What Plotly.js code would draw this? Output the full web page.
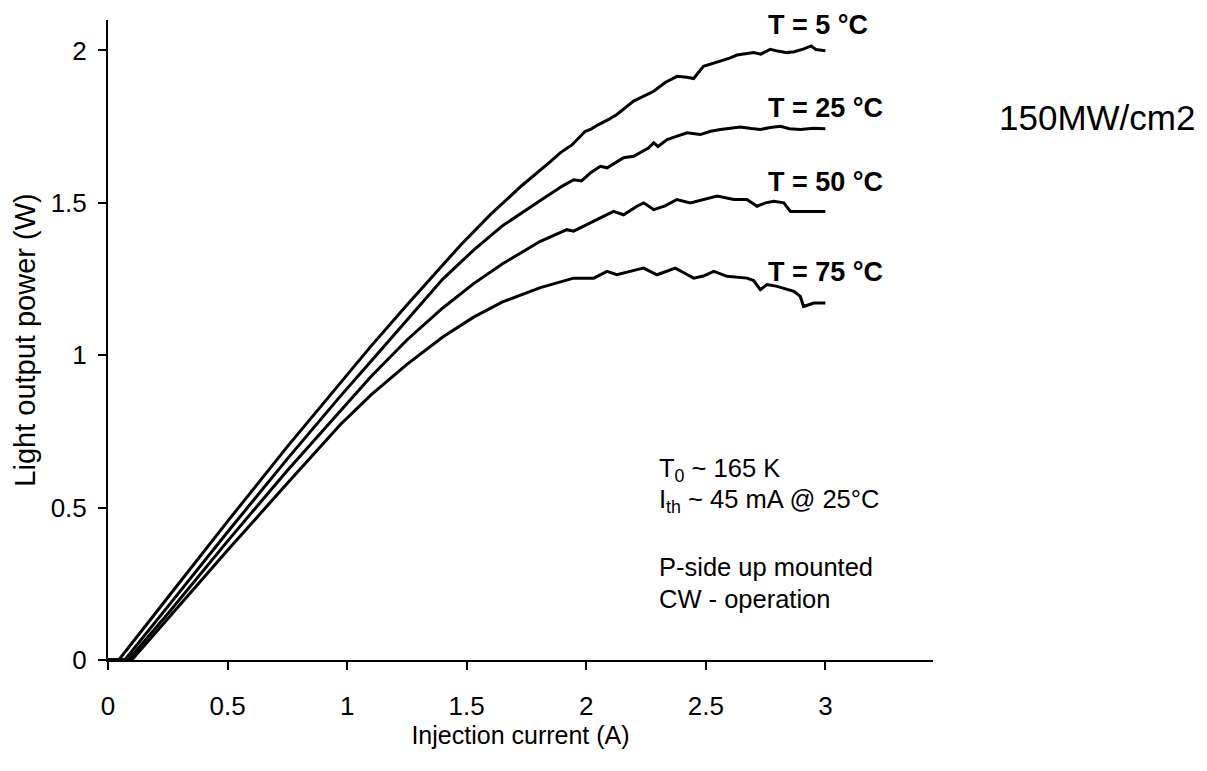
<!DOCTYPE html>
<html>
<head>
<meta charset="utf-8">
<script src="https://cdn.plot.ly/plotly-3.0.1.min.js"></script>
<style>
  html, body { margin: 0; padding: 0; background: #fff; }
  #chart { width: 1207px; height: 771px; }
</style>
</head>
<body>
<div id="chart"></div>
<script>
// L-I curves of the laser diode at four heat-sink temperatures (CW, p-side up)
const temperatures = ['T = 5 °C', 'T = 25 °C', 'T = 50 °C', 'T = 75 °C'];

const current5 = [0, 0.045, 0.25, 0.5, 0.75, 0.971, 1.1, 1.25, 1.35, 1.473, 1.6, 1.731, 1.85, 1.891, 1.94, 1.996, 2.02, 2.051, 2.09, 2.128,
  2.198, 2.24, 2.282, 2.33, 2.38, 2.42, 2.449, 2.49, 2.53, 2.561, 2.6, 2.63, 2.67, 2.70, 2.73, 2.77, 2.80, 2.84, 2.87, 2.91, 2.94, 2.96, 3.0];
const power5 = [0, 0, 0.205, 0.455, 0.700, 0.909, 1.030, 1.165, 1.253, 1.360, 1.462, 1.557, 1.635, 1.664, 1.690, 1.735, 1.742, 1.757, 1.772, 1.790,
  1.834, 1.850, 1.866, 1.895, 1.915, 1.912, 1.908, 1.948, 1.958, 1.965, 1.975, 1.985, 1.990, 1.993, 1.988, 2.004, 1.998, 1.993, 1.996, 2.005, 2.015, 2.003, 1.999];

const current25 = [0, 0.07, 0.25, 0.5, 0.75, 0.971, 1.1, 1.25, 1.4, 1.529, 1.65, 1.808, 1.90, 1.947, 1.98, 2.02, 2.059, 2.087, 2.156, 2.198, 2.26, 2.282, 2.30, 2.338,
  2.421, 2.477, 2.52, 2.561, 2.644, 2.69, 2.728, 2.77, 2.812, 2.85, 2.895, 2.95, 3.0];
const power25 = [0, 0, 0.175, 0.420, 0.660, 0.865, 0.980, 1.115, 1.250, 1.345, 1.425, 1.508, 1.555, 1.576, 1.572, 1.600, 1.620, 1.615, 1.648, 1.653, 1.680, 1.697, 1.685, 1.708,
  1.730, 1.724, 1.735, 1.741, 1.749, 1.744, 1.741, 1.747, 1.751, 1.743, 1.741, 1.745, 1.743];

const current50 = [0, 0.085, 0.25, 0.5, 0.75, 0.971, 1.1, 1.25, 1.4, 1.529, 1.65, 1.808, 1.919, 1.947, 2.0, 2.045, 2.114, 2.156, 2.212, 2.240, 2.282, 2.33, 2.379,
  2.435, 2.49, 2.547, 2.617, 2.672, 2.714, 2.75, 2.784, 2.826, 2.854, 2.881, 2.95, 3.0];
const power50 = [0, 0, 0.152, 0.390, 0.622, 0.816, 0.930, 1.050, 1.155, 1.235, 1.300, 1.374, 1.412, 1.407, 1.428, 1.445, 1.472, 1.461, 1.489, 1.500, 1.478, 1.490, 1.511,
  1.500, 1.512, 1.522, 1.511, 1.511, 1.489, 1.500, 1.505, 1.500, 1.472, 1.472, 1.470, 1.472];

const current75 = [0, 0.099, 0.25, 0.5, 0.75, 0.971, 1.1, 1.25, 1.4, 1.529, 1.65, 1.808, 1.947, 2.031, 2.087, 2.128, 2.212, 2.240, 2.296, 2.33, 2.372, 2.41,
  2.449, 2.49, 2.533, 2.589, 2.672, 2.70, 2.728, 2.756, 2.798, 2.868, 2.895, 2.909, 2.951, 3.0];
const power75 = [0, 0, 0.135, 0.360, 0.580, 0.772, 0.870, 0.970, 1.060, 1.125, 1.175, 1.222, 1.253, 1.253, 1.275, 1.264, 1.281, 1.286, 1.264, 1.275, 1.286, 1.270,
  1.253, 1.260, 1.275, 1.259, 1.253, 1.245, 1.215, 1.232, 1.226, 1.210, 1.193, 1.160, 1.171, 1.171];

// Label anchor points (left edge, vertical middle) for the curve names
const labelX = [2.753, 2.753, 2.753, 2.753];
const labelY = [2.085, 1.810, 1.570, 1.274];

const xTicks = [0, 0.5, 1, 1.5, 2, 2.5, 3];
const xTickText = ['0', '0.5', '1', '1.5', '2', '2.5', '3'];
const yTicks = [0, 0.5, 1, 1.5, 2];
const yTickText = ['0', '0.5', '1', '1.5', '2'];

const notes = ['T<sub>0</sub> ~ 165 K', 'I<sub>th</sub> ~ 45 mA @ 25°C', 'P-side up mounted', 'CW - operation'];
const notesY = [0.625, 0.521, 0.305, 0.200];

const FONT = 'Liberation Sans, Arial, sans-serif';

const series = [[current5, power5], [current25, power25], [current50, power50], [current75, power75]];
const traces = series.map((s, i) => ({
  x: s[0], y: s[1], name: temperatures[i],
  type: 'scatter', mode: 'lines',
  line: { color: '#000', width: 3 },
  hoverinfo: 'skip'
}));

const annotations = temperatures.map((t, i) => ({
  x: labelX[i], y: labelY[i], xref: 'x', yref: 'y',
  xanchor: 'left', yanchor: 'middle', showarrow: false,
  text: '<b>' + t + '</b>',
  font: { family: FONT, size: 27, color: '#000' }
}));

notes.forEach((n, i) => annotations.push({
  x: 2.296, y: notesY[i], xref: 'x', yref: 'y',
  xanchor: 'left', yanchor: 'middle', showarrow: false,
  text: n,
  font: { family: FONT, size: 25.5, color: '#000' }
}));

annotations.push({
  x: 1.0776, y: 0.848, xref: 'paper', yref: 'paper',
  xanchor: 'left', yanchor: 'middle', showarrow: false,
  text: '150MW/cm2',
  font: { family: FONT, size: 35, color: '#000' }
});

const axisCommon = {
  showline: true, linewidth: 2, linecolor: '#000',
  ticks: 'outside', ticklen: 8, tickwidth: 2, tickcolor: '#000',
  showgrid: false, zeroline: false, fixedrange: true,
  tickfont: { family: FONT, size: 26, color: '#000' }
};

const layout = {
  width: 1207, height: 771,
  margin: { l: 108, r: 274, t: 20, b: 111 },
  paper_bgcolor: '#fff', plot_bgcolor: '#fff',
  showlegend: false,
  xaxis: Object.assign({}, axisCommon, {
    range: [0, 3.45], tickmode: 'array', tickvals: xTicks, ticktext: xTickText,
    ticklabelstandoff: 14,
    title: { text: 'Injection current (A)', font: { family: FONT, size: 25, color: '#000' }, standoff: 6 }
  }),
  yaxis: Object.assign({}, axisCommon, {
    range: [0, 2.1], tickmode: 'array', tickvals: yTicks, ticktext: yTickText,
    ticklabelstandoff: 6,
    title: { text: 'Light output power (W)', font: { family: FONT, size: 29, color: '#000' }, standoff: 6 }
  }),
  annotations: annotations
};

Plotly.newPlot('chart', traces, layout, { displayModeBar: false, staticPlot: true });
</script>
</body>
</html>
